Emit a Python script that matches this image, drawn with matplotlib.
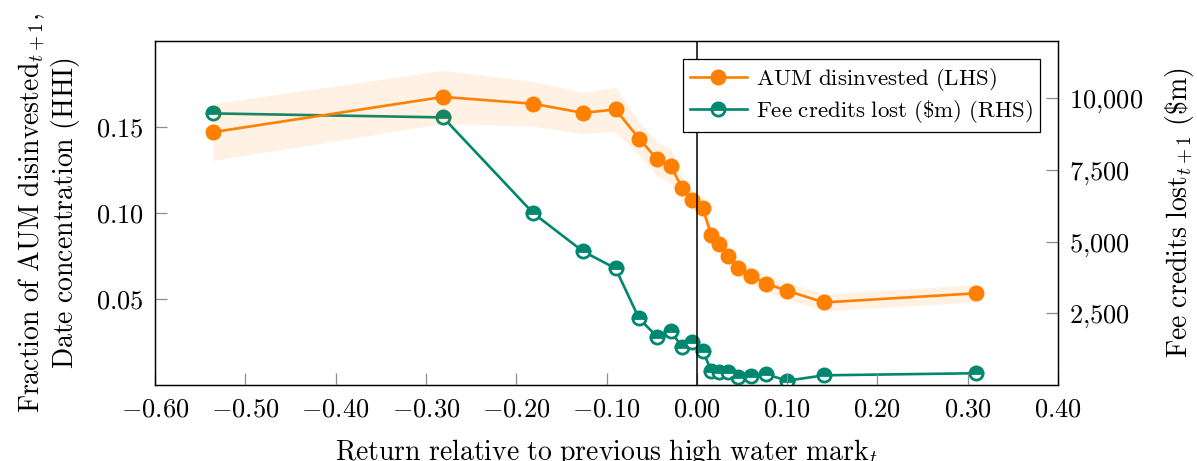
import matplotlib
matplotlib.use("Agg")
import matplotlib.pyplot as plt
from matplotlib.ticker import FixedLocator, FuncFormatter
from matplotlib.lines import Line2D

plt.rcParams['mathtext.fontset'] = 'cm'
plt.rcParams['font.family'] = ['cmr10', 'DejaVu Serif']
plt.rcParams['axes.formatter.use_mathtext'] = True

# Data
ret = [-0.536, -0.281, -0.181, -0.126, -0.090, -0.064, -0.044, -0.029, -0.016,
       -0.005, 0.0065, 0.016, 0.025, 0.035, 0.046, 0.060, 0.077, 0.100, 0.141, 0.309]
aum = [0.147, 0.1675, 0.1635, 0.1582, 0.1602, 0.1433, 0.1313, 0.1276, 0.1143,
       0.1075, 0.1030, 0.0872, 0.0819, 0.0751, 0.0680, 0.0635, 0.0589, 0.0548, 0.0480, 0.0533]
aum_hw = [0.0165, 0.0155, 0.013, 0.012, 0.013, 0.010, 0.010, 0.010, 0.007,
          0.006, 0.006, 0.005, 0.005, 0.005, 0.005, 0.005, 0.005, 0.005, 0.005, 0.005]
fees = [9474, 9335, 5990, 4662, 4069, 2326, 1685, 1883, 1314,
        1499, 1197, 499, 442, 442, 290, 314, 373, 150, 338, 410]

xticks = [-0.6, -0.5, -0.4, -0.3, -0.2, -0.1, 0.0, 0.1, 0.2, 0.3, 0.4]
lticks = [0.05, 0.10, 0.15]
rticks = [2500, 5000, 7500, 10000]

ORANGE = '#FF8000'
GREEN = '#00876f'
TICKC = '#8c8c8c'
FS = 19
LFS = 20

def rm(s):
    return r'$\mathrm{' + s.replace(' ', r'\ ') + '}$'

fig = plt.figure(figsize=(11.97, 4.61), dpi=100)
ax = fig.add_axes([155/1197, 1 - 385/461, (1058-155)/1197, (385-41)/461])
ax2 = ax.twinx()

lo = [a - h for a, h in zip(aum, aum_hw)]
hi = [a + h for a, h in zip(aum, aum_hw)]
ax.fill_between(ret, lo, hi, color=ORANGE, alpha=0.1, linewidth=0, zorder=1)
ax.plot(ret, aum, color=ORANGE, lw=1.9, marker='o', ms=10.5, mec=ORANGE, mfc=ORANGE, zorder=3)
ax.axvline(0, color='black', lw=1.1, zorder=4)

ax2.plot(ret, fees, color=GREEN, lw=1.9, marker='o', ms=9.5, mew=2.0, mec=GREEN,
         mfc=GREEN, fillstyle='top', markerfacecoloralt='white', zorder=3)

ax.set_xlim(-0.6, 0.4)
ax.set_ylim(0, 0.2)
ax2.set_ylim(0, 12000)

ax.xaxis.set_major_locator(FixedLocator(xticks))
ax.yaxis.set_major_locator(FixedLocator(lticks))
ax2.yaxis.set_major_locator(FixedLocator(rticks))
ax.xaxis.set_major_formatter(FuncFormatter(lambda v, p: '$%.2f$' % v if abs(v) > 1e-9 else '$0.00$'))
ax.yaxis.set_major_formatter(FuncFormatter(lambda v, p: '$%.2f$' % v))
ax2.yaxis.set_major_formatter(FuncFormatter(lambda v, p: '$' + ('{:,}'.format(int(v))).replace(',', '{,}') + '$'))

for a in (ax, ax2):
    a.tick_params(direction='in', length=8.5, width=0.9, color=TICKC, labelsize=FS, pad=8)
    for s in a.spines.values():
        s.set_linewidth(0.9)
        s.set_color('black')
ax.tick_params(axis='x', top=False, pad=9)

ax.set_xlabel(rm('Return relative to previous high water mark') + r'$_{t}$', fontsize=LFS, labelpad=11)
ax.set_ylabel(rm('Fraction of AUM disinvested') + r'$_{t+1}$,' + '\n' + rm('Date concentration (HHI)'),
              fontsize=LFS, labelpad=10, linespacing=1.05)
ax2.set_ylabel(rm('Fee credits lost') + r'$_{t+1}\ (\$\mathrm{m})$', fontsize=LFS, labelpad=14)

ax.set_zorder(ax2.get_zorder() + 1)
ax.patch.set_visible(False)

h1 = Line2D([], [], color=ORANGE, lw=1.9, marker='o', ms=10.5, mec=ORANGE, mfc=ORANGE)
h2 = Line2D([], [], color=GREEN, lw=1.9, marker='o', ms=9.5, mew=2.0, mec=GREEN, mfc=GREEN,
            fillstyle='top', markerfacecoloralt='white')
leg = ax.legend([h1, h2], [rm('AUM disinvested (LHS)'), rm(r'Fee credits lost (\$m) (RHS)')],
                loc='upper right', fontsize=16.5, frameon=True, fancybox=False, framealpha=1,
                edgecolor='black', handlelength=2.5, handletextpad=0.4, borderpad=0.3,
                labelspacing=0.2, borderaxespad=0.8)
leg.get_frame().set_linewidth(0.9)
leg.set_zorder(10)

fig.savefig('out.png', dpi=100)
